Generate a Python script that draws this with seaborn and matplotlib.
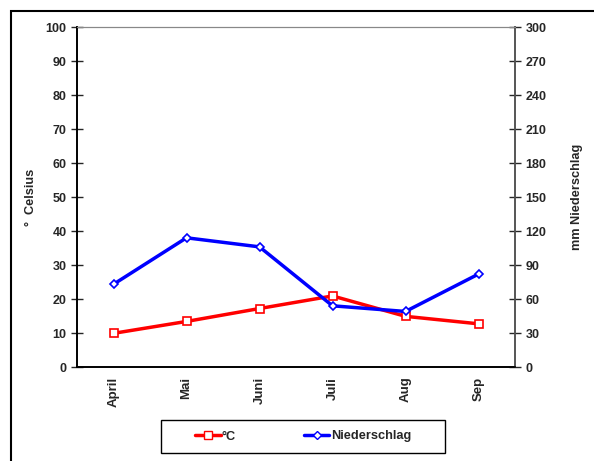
import numpy as np
import pandas as pd
import matplotlib
matplotlib.use('Agg')
import matplotlib.pyplot as plt
import matplotlib.patches as patches
from matplotlib.lines import Line2D
import seaborn as sb

sb.set_style('white')
plt.rcParams['font.family'] = ['Liberation Sans', 'DejaVu Sans']
plt.rcParams['font.weight'] = 'bold'

# Daten
monate = ['April', 'Mai', 'Juni', 'Juli', 'Aug', 'Sep']
temperatur = [9.9, 13.4, 17.2, 20.9, 14.9, 12.7]
niederschlag = [73, 114, 106, 54, 49, 82]

df = pd.DataFrame({'Monat': monate, 'Temp': temperatur, 'Regen': niederschlag})

fig = plt.figure(figsize=(5.94, 4.61), dpi=100)
ax = fig.add_axes([77/594, 1 - 367/461, (515 - 77)/594, (367 - 27)/461])
ax2 = ax.twinx()

sb.lineplot(data=df, x='Monat', y='Temp', ax=ax, color='#ff0000', lw=2.5,
            marker='s', markersize=6, markerfacecolor='white',
            markeredgecolor='#ff0000', markeredgewidth=1.2, sort=False, zorder=3)
sb.lineplot(data=df, x='Monat', y='Regen', ax=ax2, color='#0000ff', lw=2.5,
            marker='D', markersize=4.5, markerfacecolor='white',
            markeredgecolor='#0000ff', markeredgewidth=1.2, sort=False, zorder=3)

ax.set_xlim(-0.5, 5.5)
ax.set_ylim(0, 100)
ax2.set_ylim(0, 300)
ax.set_yticks(np.arange(0, 101, 10))
ax2.set_yticks(np.arange(0, 301, 30))

ax.set_xticks(np.arange(-0.5, 5.6, 1))
ax.set_xticklabels([])
ax.set_xticks(np.arange(6), minor=True)
ax.set_xticklabels(monate, minor=True, rotation=90, fontsize=9.5, fontweight='bold')
ax.tick_params(axis='x', which='minor', length=0, pad=7)
ax.tick_params(axis='x', which='major', direction='inout', length=8, width=1)
ax.tick_params(axis='y', direction='inout', length=8, width=1, labelsize=9)
ax2.tick_params(axis='y', direction='inout', length=8, width=1, labelsize=9)
for t in ax.get_yticklabels() + ax2.get_yticklabels():
    t.set_fontweight('bold')

ax.set_xlabel('')
ax.set_ylabel('°  Celsius', fontsize=9.2, fontweight='bold', labelpad=6)
ax2.set_ylabel('mm Niederschlag', fontsize=9.2, fontweight='bold', labelpad=18)

for a in (ax, ax2):
    a.spines['top'].set_color('#888888')
    a.spines['top'].set_linewidth(0.8)
    a.spines['left'].set_color('black')
    a.spines['left'].set_linewidth(1.2)
    a.spines['bottom'].set_color('black')
    a.spines['bottom'].set_linewidth(1.2)
    a.spines['right'].set_color('#555555')
    a.spines['right'].set_linewidth(1.2)
    a.grid(False)

handles = [
    Line2D([], [], color='#ff0000', lw=2.5, marker='s', markersize=6,
           markerfacecolor='white', markeredgecolor='#ff0000'),
    Line2D([], [], color='#0000ff', lw=2.5, marker='D', markersize=4.5,
           markerfacecolor='white', markeredgecolor='#0000ff'),
]
leg = fig.legend(handles, ['°C', 'Niederschlag'], loc='center',
                 bbox_to_anchor=(303/594, 1 - 436.5/461), ncol=2, frameon=False,
                 handlelength=2.0, handletextpad=0.1, columnspacing=5.3,
                 prop={'size': 9.2, 'weight': 'bold'})
for a in (ax, ax2):
    if a.get_legend():
        a.get_legend().remove()

# Rahmen der Legende
fig.patches.append(patches.Rectangle((161/594, 1 - 453/461), 284/594, 33/461,
                                     transform=fig.transFigure, fill=False,
                                     edgecolor='black', lw=1.0))
# Rahmen um die Grafik
fig.patches.append(patches.Rectangle((11/594, -0.1), 1.0, 1.1 - 11/461,
                                     transform=fig.transFigure, fill=False,
                                     edgecolor='black', lw=1.5, clip_on=False))

fig.savefig('out.png', dpi=100)
